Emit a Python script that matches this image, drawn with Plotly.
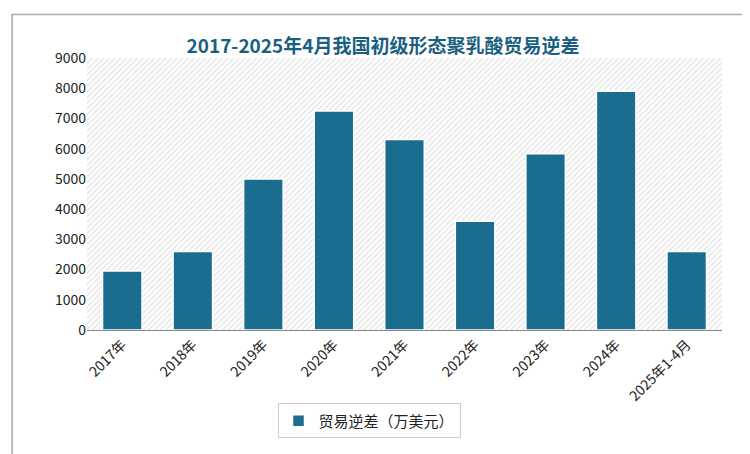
import plotly.graph_objects as go

years = ["2017年", "2018年", "2019年", "2020年", "2021年", "2022年", "2023年", "2024年", "2025年1-4月"]
trade_deficit = [1950, 2600, 5000, 7250, 6300, 3600, 5830, 7900, 2600]
series_name = "贸易逆差（万美元）"
y_ticks = list(range(0, 9001, 1000))

fig = go.Figure()

# hatched plot background (drawn on the base x axis, under the bars)
fig.add_trace(go.Bar(
    x=[0], y=[9000], width=[1], xaxis="x",
    marker=dict(color="white", line_width=0,
                pattern=dict(shape="/", fgcolor="#cfcfcf", bgcolor="white", size=4, solidity=0.4)),
    showlegend=False, hoverinfo="skip",
))

fig.add_trace(go.Bar(
    x=years, y=trade_deficit, name=series_name, xaxis="x2",
    marker=dict(color="#1b6d8f", line=dict(color="white", width=1.5)),
    width=0.56,
))

fig.update_layout(
    width=750, height=454,
    margin=dict(l=79, r=36, t=50, b=132, autoexpand=False),
    paper_bgcolor="white", plot_bgcolor="white",
    font=dict(family="Noto Sans CJK SC", size=14, color="#222"),
    title=dict(text="<b>2017-2025年4月我国初级形态聚乳酸贸易逆差</b>", x=0.5, xanchor="center",
               y=0.93, font=dict(size=19, color="#1b5f80")),
    xaxis=dict(range=[-0.5, 0.5], visible=False),
    xaxis2=dict(overlaying="x", tickangle=-45, showline=True, linecolor="#888", tickfont=dict(size=14),
                anchor="y"),
    yaxis=dict(range=[0, 9000], tickvals=y_ticks, showgrid=False, zeroline=False, tickfont=dict(size=14)),
    legend=dict(x=0.30, y=-0.27, xanchor="left", yanchor="top", bordercolor="#ccc", borderwidth=1,
                font=dict(size=15), itemwidth=30),
    shapes=[dict(type="rect", xref="paper", yref="paper", x0=-0.118, x1=1.04, y0=-0.47, y1=1.16,
                 line=dict(color="#aaa", width=1.5))],
)

fig.write_html("out.html")
